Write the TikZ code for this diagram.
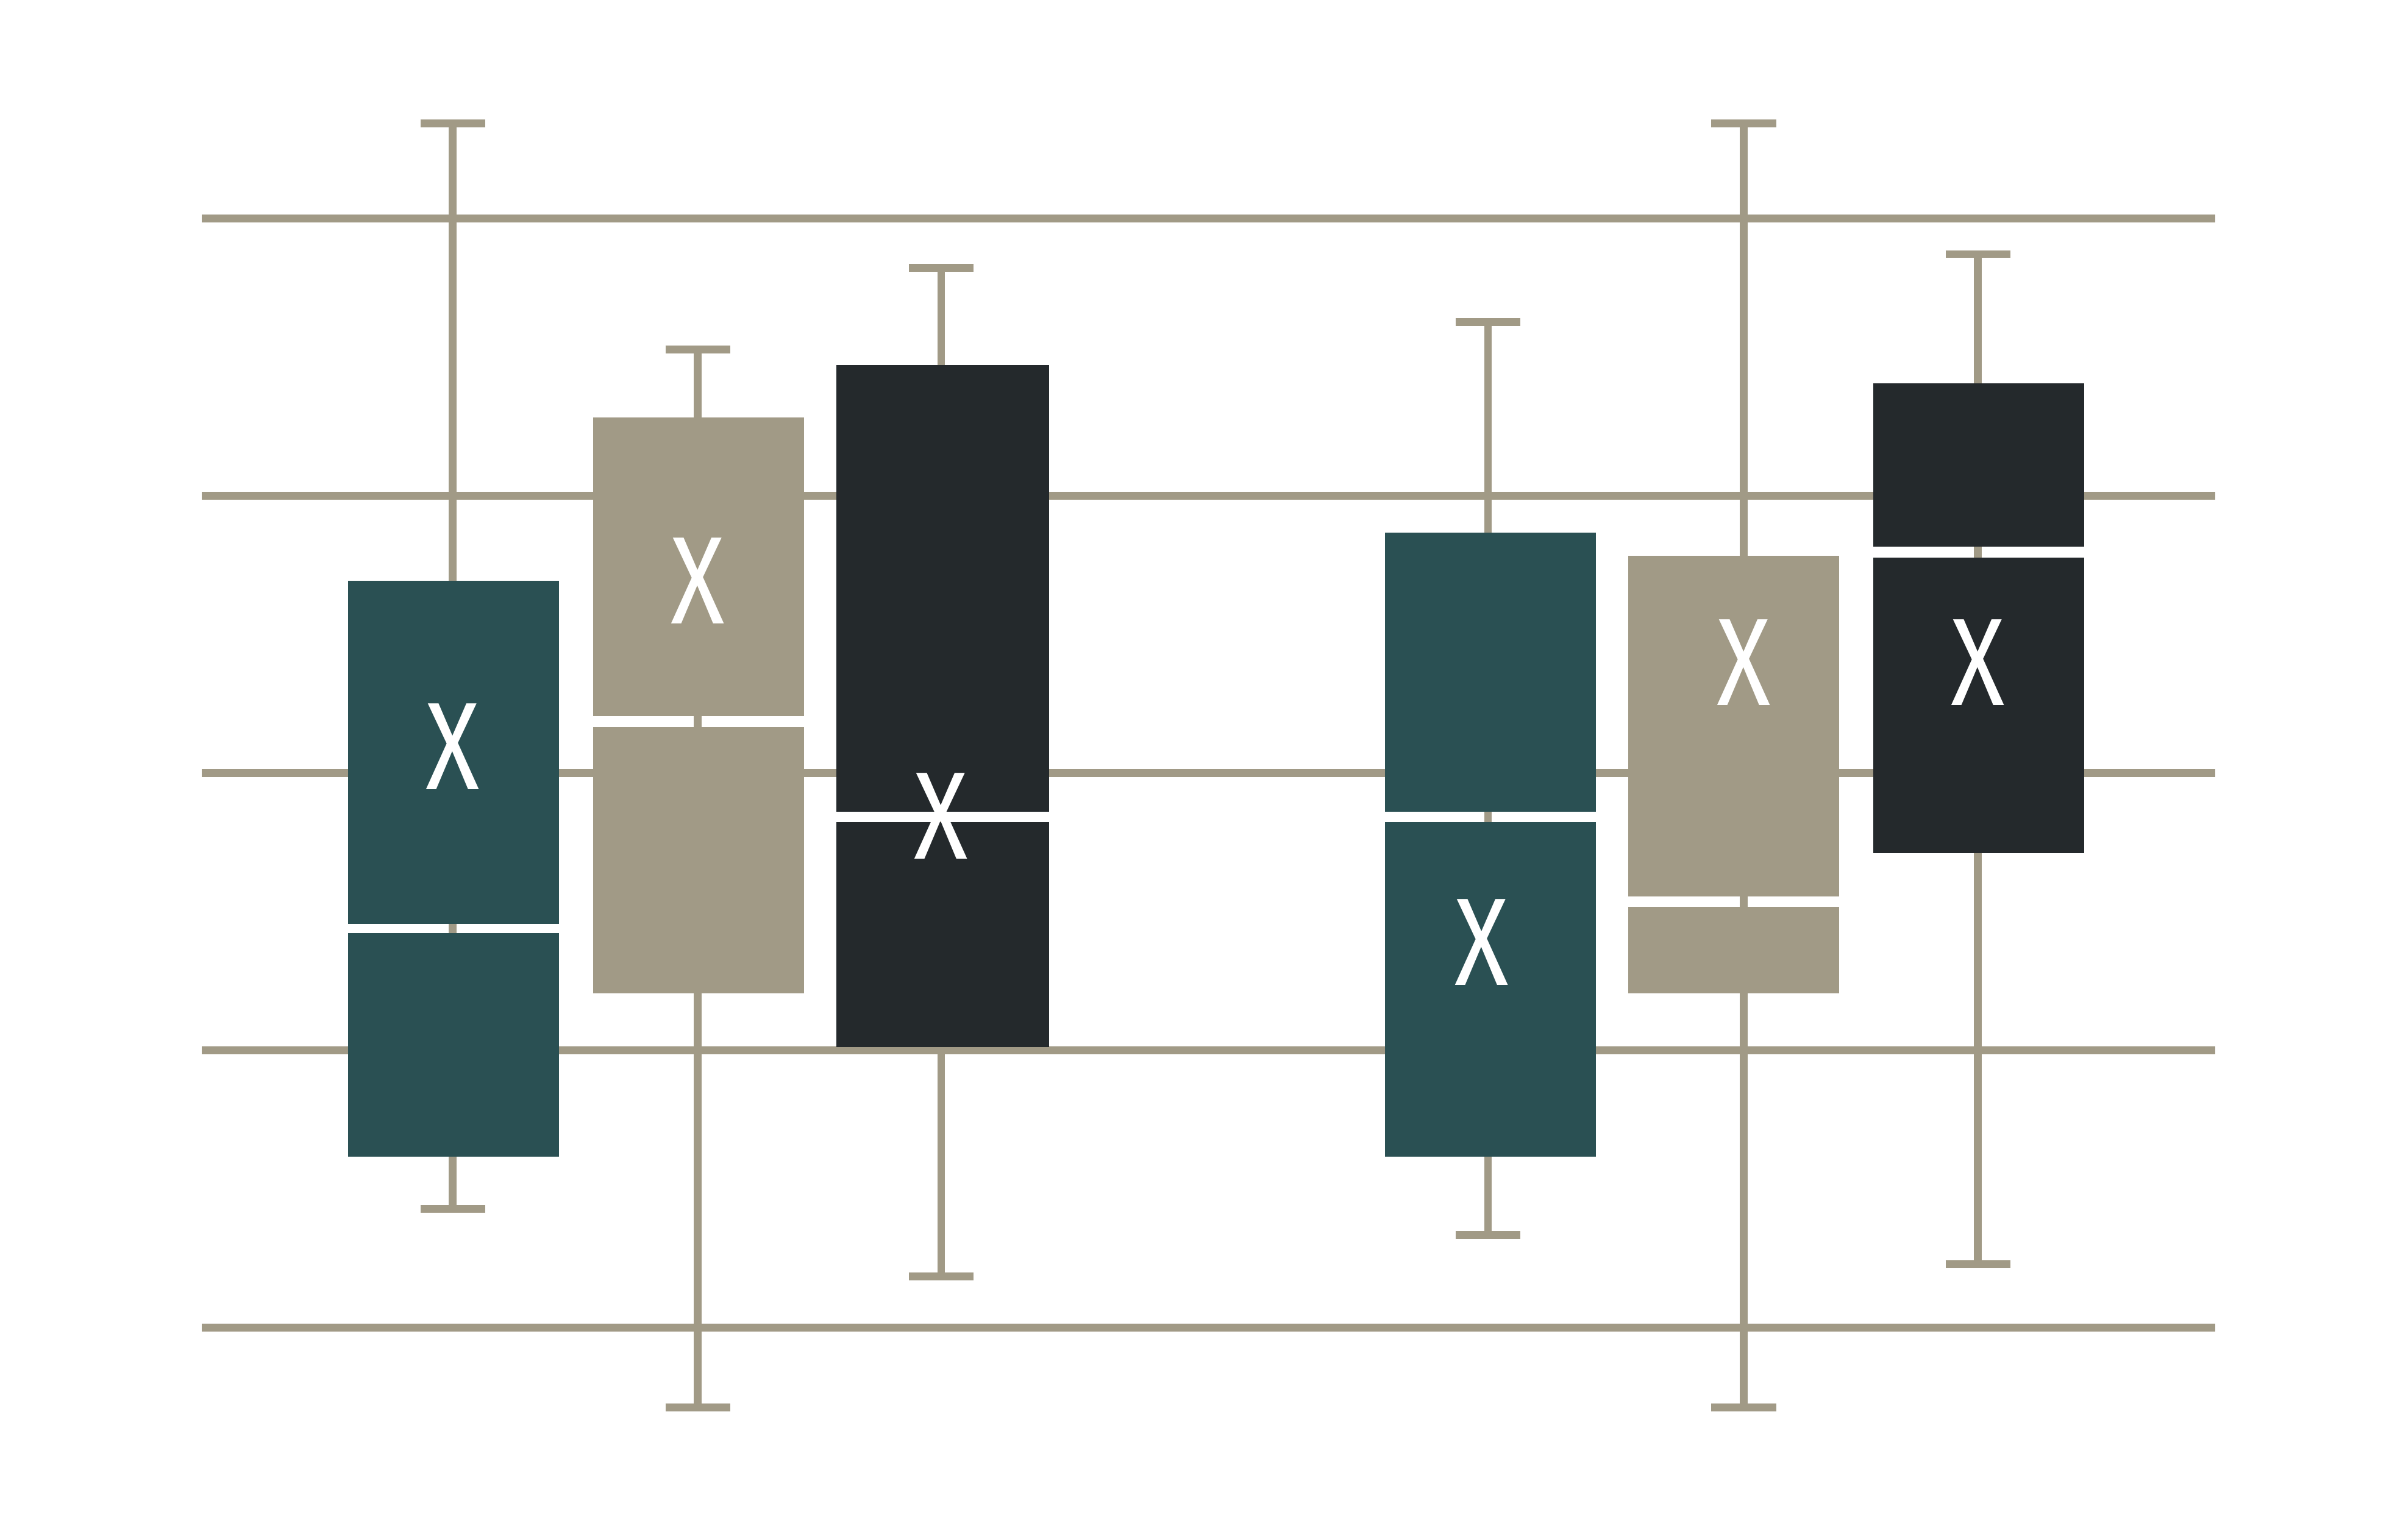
\documentclass[tikz,border=0pt]{standalone}
\usepackage{fontspec}
\setmainfont{Fira Sans}
\begin{document}
\begin{tikzpicture}[x=0.01cm,y=-0.01cm]
\definecolor{beige}{HTML}{A19A86}
\definecolor{teal}{HTML}{2A5053}
\definecolor{dark}{HTML}{24292C}
\tikzset{grid/.style={draw=beige,line width=5pt*0.01cm/1cm*28.45},
  wh/.style={draw=beige,line width=1.45pt},
  lbl/.style={text=white,font=\fontsize{23}{23}\selectfont,xscale=0.8,inner sep=0}}
\useasboundingbox (0,0) rectangle (1560,1000);
\foreach \y in {142,322,502,682,862}{\draw[wh] (131,\y) -- (1438,\y);}
% box macro: x1,x2,top,gaptop,gapbot,bottom,wx,wtop,wbot,colour,lx,ly
\foreach \a/\b/\t/\g/\h/\u/\w/\p/\q/\c/\lx/\ly/\n in {
226/363/377/600/606/751/294/80/785/teal/294/485/a,
385/522/271/465/472/645/453/227/914/beige/453/377/b,
543/681/237/527/534/680/611/174/829/dark/611/530/c,
899/1036/346/527/534/751/966/209/802/teal/962/612/d,
1057/1194/361/582/589/645/1132/80/914/beige/1132/430/e,
1216/1353/249/355/362/554/1284/165/821/dark/1284/430/f}{
  \coordinate (wt\n) at (\w,\p); \coordinate (wb\n) at (\w,\q);
  \draw[wh] (wt\n) -- (wb\n);
  \draw[wh] ([xshift=-0.21cm]wt\n) -- ([xshift=0.21cm]wt\n);
  \draw[wh] ([xshift=-0.21cm]wb\n) -- ([xshift=0.21cm]wb\n);
  \fill[\c] (\a,\t) rectangle (\b,\g);
  \fill[\c] (\a,\h) rectangle (\b,\u);
  \node[lbl] (x\n) at (\lx,\ly) {X};
}
\end{tikzpicture}
\end{document}
